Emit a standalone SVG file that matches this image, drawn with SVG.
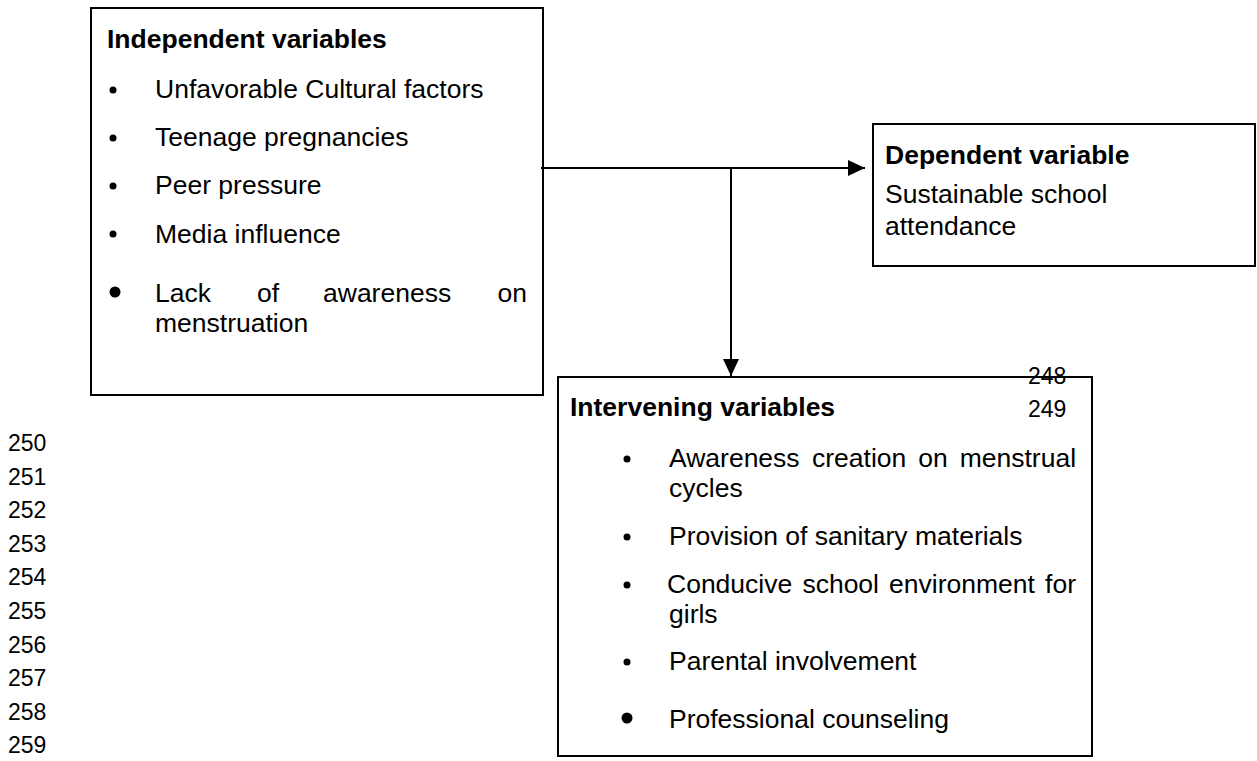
<svg xmlns="http://www.w3.org/2000/svg" width="1257" height="761" viewBox="0 0 1257 761">
<style>
.box{fill:#fff;stroke:#000;stroke-width:2}
.t{font-family:"Liberation Sans",Arial,sans-serif;font-size:26.5px;fill:#000}
.b{font-weight:bold}
.n{font-family:"Liberation Sans",Arial,sans-serif;font-size:23px;fill:#000}
.ln{stroke:#000;stroke-width:2;fill:none}
</style>
<defs>
<marker id="ah" markerUnits="userSpaceOnUse" markerWidth="18" markerHeight="16" refX="17" refY="8" orient="auto">
<path d="M0,0 L17,8 L0,16 Z" fill="#000"/>
</marker>
</defs>
<rect width="1257" height="761" fill="#fff"/>
<g id="line-numbers">
<text class="n" x="8" y="451">250</text>
<text class="n" x="8" y="484.6">251</text>
<text class="n" x="8" y="518.2">252</text>
<text class="n" x="8" y="551.8">253</text>
<text class="n" x="8" y="585.4">254</text>
<text class="n" x="8" y="619">255</text>
<text class="n" x="8" y="652.6">256</text>
<text class="n" x="8" y="686.2">257</text>
<text class="n" x="8" y="719.8">258</text>
<text class="n" x="8" y="753.4">259</text>
</g>
<g id="independent">
<rect class="box" x="91" y="8" width="452" height="387"/>
<text class="t b" x="107" y="48">Independent variables</text>
<circle cx="113" cy="90" r="3.5"/>
<text class="t" x="155" y="98">Unfavorable Cultural factors</text>
<circle cx="113" cy="138" r="3.5"/>
<text class="t" x="155" y="146">Teenage pregnancies</text>
<circle cx="113" cy="186" r="3.5"/>
<text class="t" x="155" y="194">Peer pressure</text>
<circle cx="113" cy="234" r="3.5"/>
<text class="t" x="155" y="243">Media influence</text>
<circle cx="115" cy="292" r="5.5"/>
<text class="t" y="302"><tspan x="155">Lack</tspan><tspan x="257">of</tspan><tspan x="323">awareness</tspan><tspan x="497.5">on</tspan></text>
<text class="t" x="155" y="332">menstruation</text>
</g>
<g id="dependent">
<rect class="box" x="873" y="124" width="382" height="142"/>
<text class="t b" x="885" y="164">Dependent variable</text>
<text class="t" x="885" y="203">Sustainable school</text>
<text class="t" x="885" y="235">attendance</text>
</g>
<g id="intervening">
<rect class="box" x="558" y="377" width="534" height="379"/>
<text class="t b" x="570" y="416">Intervening variables</text>
<text class="n" x="1028" y="384">248</text>
<text class="n" x="1028" y="417">249</text>
<circle cx="627" cy="459" r="3.5"/>
<text class="t" y="467"><tspan x="669">Awareness</tspan><tspan x="812">creation</tspan><tspan x="918.2">on</tspan><tspan x="959.7">menstrual</tspan></text>
<text class="t" x="669" y="497">cycles</text>
<circle cx="627" cy="537" r="3.5"/>
<text class="t" x="669" y="545">Provision of sanitary materials</text>
<circle cx="627" cy="585" r="3.5"/>
<text class="t" y="593"><tspan x="667">Conducive</tspan><tspan x="802.4">school</tspan><tspan x="889.1">environment</tspan><tspan x="1045.1">for</tspan></text>
<text class="t" x="669" y="623">girls</text>
<circle cx="627" cy="662" r="3.5"/>
<text class="t" x="669" y="670">Parental involvement</text>
<circle cx="627" cy="718" r="5.5"/>
<text class="t" x="669" y="728">Professional counseling</text>
</g>
<g id="connectors">
<path class="ln" d="M541,168 H865" marker-end="url(#ah)"/>
<path class="ln" d="M731,168 V376" marker-end="url(#ah)"/>
</g>
</svg>
